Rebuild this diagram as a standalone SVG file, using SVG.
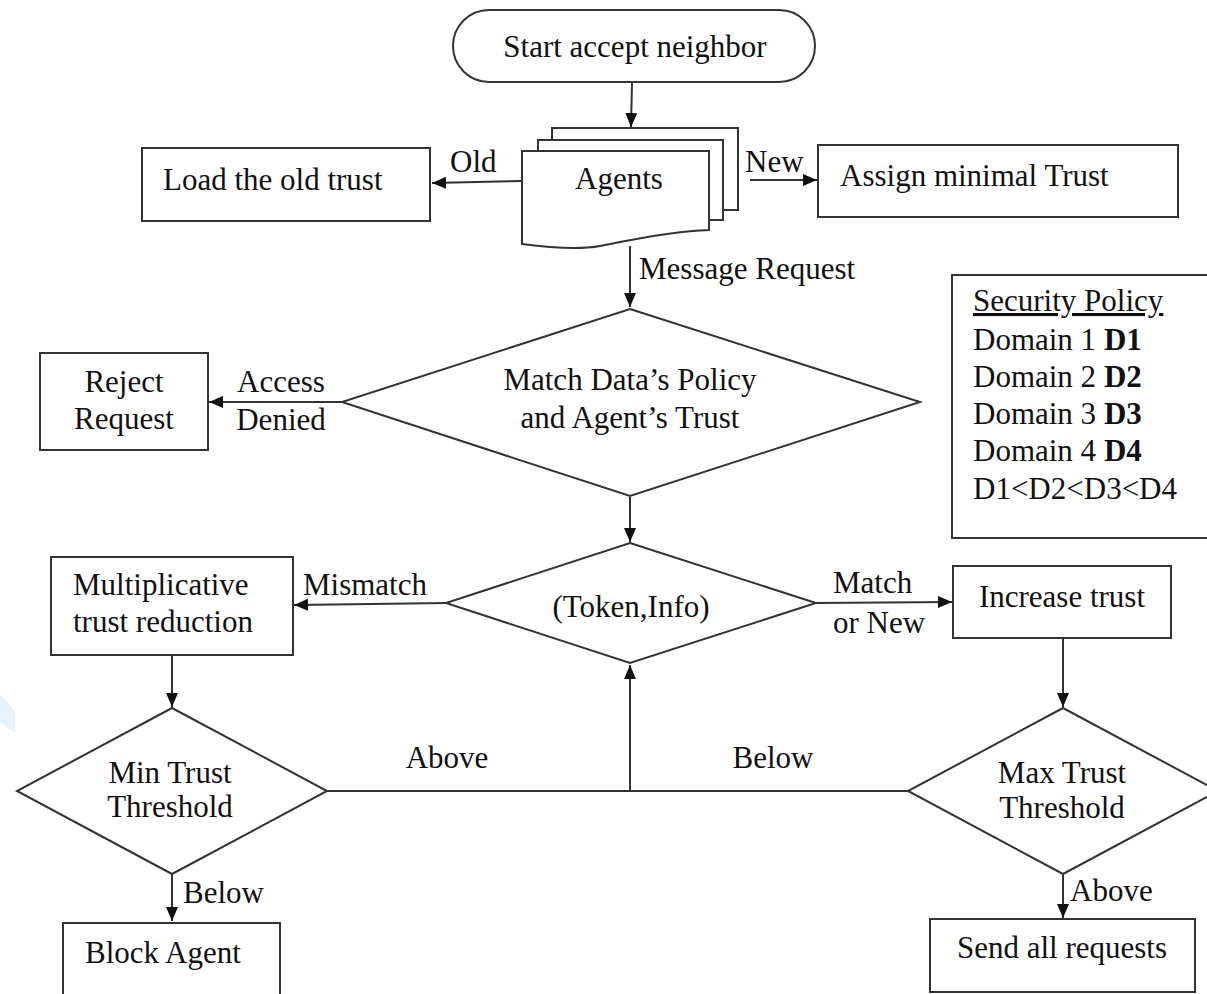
<svg xmlns="http://www.w3.org/2000/svg" width="1207" height="994" viewBox="0 0 1207 994">
<defs>
<marker id="ah" markerUnits="userSpaceOnUse" markerWidth="14" markerHeight="14" viewBox="0 0 14 14" refX="14" refY="7" orient="auto">
<path d="M0,1 L14,7 L0,13 Z" fill="#111"/>
</marker>
</defs>
<style>
.s{fill:#fff;stroke:#333;stroke-width:2}
.t{font-family:"Liberation Serif","Times New Roman",serif;font-size:31px;fill:#111}
.m{text-anchor:middle}
.c{fill:none;stroke:#333;stroke-width:2}
.a{fill:none;stroke:#333;stroke-width:2;marker-end:url(#ah)}
</style>
<rect width="1207" height="994" fill="#fff"/>
<polygon points="0,694 15,711 15,733 0,722" fill="#e6f2fc"/>

<g id="connectors">
<path class="a" d="M632,83 L631,127"/>
<path class="a" d="M522,181 L432,183"/>
<path class="a" d="M750,180 L817,180"/>
<path class="a" d="M630,246 L630,307"/>
<path class="a" d="M342,402 L209,402"/>
<path class="a" d="M630,497 L630,542"/>
<path class="a" d="M447,603 L294,605"/>
<path class="a" d="M815,603 L952,602"/>
<path class="a" d="M172,656 L172,707"/>
<path class="a" d="M172,874 L172,921"/>
<path class="a" d="M1063,639 L1063,707"/>
<path class="a" d="M1063,874 L1063,918"/>
<path class="c" d="M327,791 L908,791"/>
<path class="a" d="M630,791 L630,665"/>
<text class="t" x="450" y="172">Old</text>
<text class="t" x="745" y="172">New</text>
<text class="t" x="639" y="279">Message Request</text>
<text class="t m" x="281" y="392">Access</text>
<text class="t m" x="281" y="430">Denied</text>
<text class="t" x="303" y="595">Mismatch</text>
<text class="t" x="833" y="593">Match</text>
<text class="t" x="833" y="633">or New</text>
<text class="t m" x="447" y="768">Above</text>
<text class="t m" x="773" y="768">Below</text>
<text class="t" x="183" y="903">Below</text>
<text class="t" x="1070" y="901">Above</text>
</g>

<g id="start">
<rect class="s" x="453" y="10" width="362" height="72" rx="36" ry="36"/>
<text class="t m" x="635" y="57">Start accept neighbor</text>
</g>

<g id="agents">
<rect class="s" x="552" y="128" width="186" height="82"/>
<rect class="s" x="538" y="140" width="185" height="80"/>
<path class="s" d="M522,151 H709 V230 C670,232 640,238 600,246 C578,250 552,248 522,244 Z"/>
<text class="t m" x="619" y="189">Agents</text>
</g>

<g id="load">
<rect class="s" x="142" y="148" width="288" height="73"/>
<text class="t" x="163" y="190">Load the old trust</text>
</g>

<g id="assign">
<rect class="s" x="818" y="145" width="360" height="72"/>
<text class="t" x="840" y="186">Assign minimal Trust</text>
</g>

<g id="policy">
<rect class="s" x="952" y="275" width="260" height="263"/>
<text class="t" x="973" y="311" text-decoration="underline">Security Policy</text>
<text class="t" x="973" y="350">Domain 1 <tspan font-weight="bold">D1</tspan></text>
<text class="t" x="973" y="387">Domain 2 <tspan font-weight="bold">D2</tspan></text>
<text class="t" x="973" y="424">Domain 3 <tspan font-weight="bold">D3</tspan></text>
<text class="t" x="973" y="461">Domain 4 <tspan font-weight="bold">D4</tspan></text>
<text class="t" x="973" y="499">D1&lt;D2&lt;D3&lt;D4</text>
</g>

<g id="match">
<polygon class="s" points="630,309 920,402 630,496 342,402"/>
<text class="t m" x="630" y="390">Match Data’s Policy</text>
<text class="t m" x="630" y="428">and Agent’s Trust</text>
</g>

<g id="reject">
<rect class="s" x="40" y="353" width="168" height="97"/>
<text class="t m" x="124" y="392">Reject</text>
<text class="t m" x="124" y="429">Request</text>
</g>

<g id="token">
<polygon class="s" points="630,543 816,603 630,663 446,603"/>
<text class="t m" x="631" y="617">(Token,Info)</text>
</g>

<g id="reduce">
<rect class="s" x="51" y="557" width="242" height="98"/>
<text class="t" x="73" y="595">Multiplicative</text>
<text class="t" x="73" y="632">trust reduction</text>
</g>

<g id="increase">
<rect class="s" x="953" y="566" width="218" height="72"/>
<text class="t m" x="1062" y="607">Increase trust</text>
</g>

<g id="mintrust">
<polygon class="s" points="172,708 327,791 172,874 17,791"/>
<text class="t m" x="170" y="783">Min Trust</text>
<text class="t m" x="170" y="817">Threshold</text>
</g>

<g id="maxtrust">
<polygon class="s" points="1063,708 1218,791 1063,874 908,791"/>
<text class="t m" x="1062" y="783">Max Trust</text>
<text class="t m" x="1062" y="818">Threshold</text>
</g>

<g id="block">
<rect class="s" x="63" y="923" width="217" height="80"/>
<text class="t" x="85" y="963">Block Agent</text>
</g>

<g id="send">
<rect class="s" x="930" y="919" width="265" height="73"/>
<text class="t m" x="1062" y="958">Send all requests</text>
</g>
</svg>
